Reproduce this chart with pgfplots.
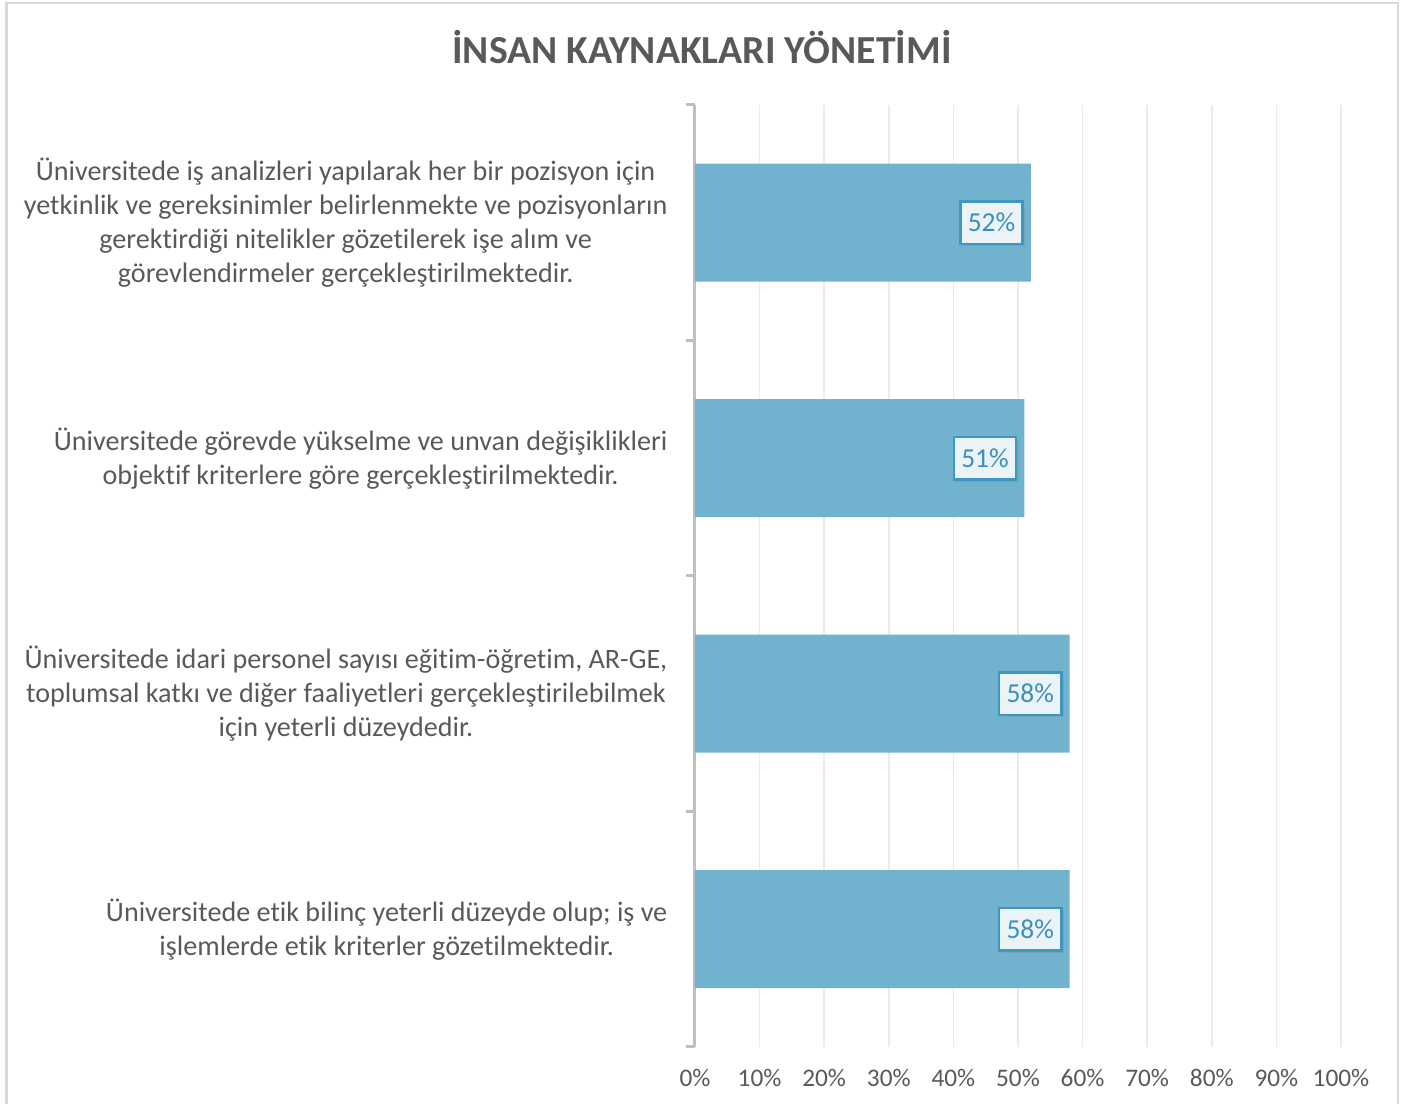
\documentclass[border=0pt]{standalone}
\usepackage{fontspec}
\setmainfont{Carlito}[Ligatures={NoCommon}]
\usepackage{pgfplots}
\pgfplotsset{compat=1.18}
\usetikzlibrary{shadows}
\definecolor{barblue}{RGB}{113,179,206}
\definecolor{txtgray}{RGB}{89,89,89}
\definecolor{axgray}{RGB}{191,191,191}
\definecolor{gridgray}{RGB}{235,235,235}
\definecolor{bordergray}{RGB}{217,217,217}
\definecolor{lblborder}{RGB}{62,151,192}
\definecolor{lblfill}{RGB}{235,243,247}
\definecolor{lbltext}{RGB}{59,143,190}
\begin{document}
\begin{tikzpicture}
\useasboundingbox (0,0) rectangle (14.05,11.04);
\draw[draw=bordergray, line width=0.025cm] (0.065,-0.5) rectangle (13.98,11.01);
\node[font=\bfseries\fontsize{11.3}{13.5}\selectfont, text=txtgray] at (7.02,10.57) {İNSAN KAYNAKLARI YÖNETİMİ};
\begin{axis}[
  at={(6.95cm,0.57cm)}, anchor=south west,
  scale only axis, width=6.46cm, height=9.42cm,
  xmin=0, xmax=100, ymin=-0.5, ymax=3.5, y dir=reverse,
  xbar, bar width=1.18cm,
  axis x line*=bottom, axis y line*=left,
  x axis line style={draw=none},
  y axis line style={draw=axgray, line width=0.03cm},
  xmajorgrids, grid style={draw=gridgray, line width=0.015cm},
  xtick={0,10,...,100},
  xticklabels={0\%,10\%,20\%,30\%,40\%,50\%,60\%,70\%,80\%,90\%,100\%},
  xticklabel style={font=\fontsize{7.2}{8.6}\selectfont, text=txtgray, inner sep=0pt, yshift=-0.22cm},
  ytick={0,1,2,3},
  yticklabels={
    {Üniversitede iş analizleri yapılarak her bir pozisyon için\\yetkinlik ve gereksinimler belirlenmekte ve pozisyonların\\gerektirdiği nitelikler gözetilerek işe alım ve\\görevlendirmeler gerçekleştirilmektedir.},
    {Üniversitede görevde yükselme ve unvan değişiklikleri\\objektif kriterlere göre gerçekleştirilmektedir.},
    {Üniversitede idari personel sayısı eğitim-öğretim, AR-GE,\\toplumsal katkı ve diğer faaliyetleri gerçekleştirilebilmek\\için yeterli düzeydedir.},
    {Üniversitede etik bilinç yeterli düzeyde olup; iş ve\\işlemlerde etik kriterler gözetilmektedir.}},
  yticklabel style={font=\fontsize{8}{9.65}\selectfont, text=txtgray, align=center, anchor=east, inner sep=0pt, xshift=-0.27cm},
  major tick length=0pt,
  extra y ticks={-0.5,0.5,1.5,2.5,3.5},
  extra y tick labels={},
  extra y tick style={major tick length=0.09cm, tick align=outside, tick style={draw=axgray, line width=0.03cm}},
  point meta=x,
  /pgf/number format/assume math mode=true,
  nodes near coords={\pgfmathprintnumber{\pgfplotspointmeta}\%},
  every node near coord/.append style={anchor=east, xshift=-0.07cm,
    font=\fontsize{7.8}{9}\selectfont, text=lbltext, fill=lblfill, draw=lblborder,
    line width=0.025cm, inner xsep=0.075cm, minimum height=0.42cm,
    drop shadow={opacity=0.25, shadow xshift=0.025cm, shadow yshift=-0.025cm}},
]
\addplot[fill=barblue, draw=none] coordinates {(52,0) (51,1) (58,2) (58,3)};
\end{axis}
\end{tikzpicture}
\end{document}
